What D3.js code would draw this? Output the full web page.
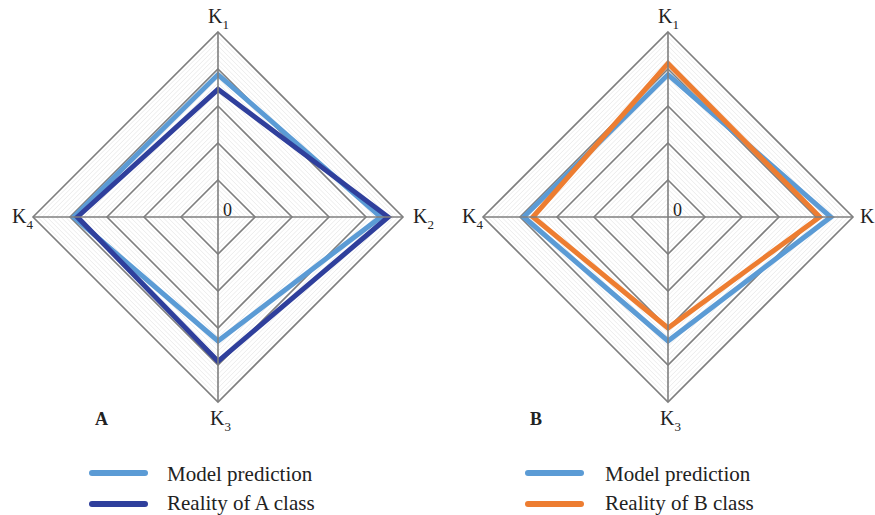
<!DOCTYPE html>
<html>
<head>
<meta charset="utf-8">
<script src="https://cdn.jsdelivr.net/npm/d3@7"></script>
<style>
  html, body { margin: 0; padding: 0; background: #fff; }
  svg { display: block; }
</style>
</head>
<body>
<svg id="chart" width="875" height="515" font-family="'Liberation Serif', 'DejaVu Serif', serif"></svg>
<script>
// Indicator axes, clockwise from the top
const axes = ["1", "2", "3", "4"];

// Scores on each axis (0 .. 1)
const modelPrediction = [0.77, 0.88, 0.67, 0.78];
const realityA = [0.69, 0.92, 0.78, 0.76];
const realityB = [0.83, 0.82, 0.60, 0.73];

const majorTicks = [0.2, 0.4, 0.6, 0.8, 1.0];
const minorStep = 0.025;

const panels = [
  { tag: "A", cx: 218, cy: 217, series: [
      { name: "Model prediction", values: modelPrediction, color: "#5b9bd5" },
      { name: "Reality of A class", values: realityA, color: "#2f3f9c" }
    ], legendX: 92, tagX: 95, textX: 75, k2x: 195, showSub: [true, true, true, true] },
  { tag: "B", cx: 668, cy: 217, series: [
      { name: "Model prediction", values: modelPrediction, color: "#5b9bd5" },
      { name: "Reality of B class", values: realityB, color: "#ed7d31" }
    ], legendX: 528, tagX: 530, textX: 77, k2x: 192, showSub: [true, false, true, true] }
];

const svg = d3.select("#chart");
const R = 185;
const r = d3.scaleLinear().domain([0, 1]).range([0, R]);
const angle = i => i * Math.PI / 2;

const ring = d3.lineRadial()
  .angle((d, i) => angle(i))
  .radius(d => r(d))
  .curve(d3.curveLinearClosed);

const minorTicks = d3.range(minorStep, 1.0001, minorStep)
  .filter(v => !majorTicks.some(m => Math.abs(m - v) < 1e-6));

panels.forEach(p => {
  const g = svg.append("g").attr("transform", `translate(${p.cx},${p.cy})`);

  // faint minor rings
  g.selectAll("path.minor").data(minorTicks).join("path")
    .attr("class", "minor")
    .attr("d", t => ring(axes.map(() => t)))
    .attr("fill", "none")
    .attr("stroke", "#ececec")
    .attr("stroke-width", 1);

  // major rings
  g.selectAll("path.major").data(majorTicks).join("path")
    .attr("class", "major")
    .attr("d", t => ring(axes.map(() => t)))
    .attr("fill", "none")
    .attr("stroke", "#7f7f7f")
    .attr("stroke-width", 1.6)
    .attr("stroke-linejoin", "miter");

  // series polygons
  p.series.forEach(s => {
    g.append("path")
      .attr("d", ring(s.values))
      .attr("fill", "none")
      .attr("stroke", s.color)
      .attr("stroke-width", 5)
      .attr("stroke-linejoin", "miter")
      .attr("stroke-miterlimit", 10);
  });

  // axis spokes
  g.selectAll("line.axis").data(axes).join("line")
    .attr("class", "axis")
    .attr("x1", 0).attr("y1", 0)
    .attr("x2", (d, i) => r(1) * Math.sin(angle(i)))
    .attr("y2", (d, i) => -r(1) * Math.cos(angle(i)))
    .attr("stroke", "#7f7f7f")
    .attr("stroke-width", 1.6);

  // zero label
  g.append("text").attr("x", 5).attr("y", -1)
    .attr("font-size", 18).attr("fill", "#222").text("0");

  // axis labels K with subscripts
  const labelPos = [
    { x: -10, y: -194 },
    { x: p.k2x, y: 6 },
    { x: -8, y: 208 },
    { x: -206, y: 6 }
  ];
  axes.forEach((a, i) => {
    const t = g.append("text")
      .attr("x", labelPos[i].x).attr("y", labelPos[i].y)
      .attr("font-size", 20).attr("fill", "#222");
    t.append("tspan").text("K");
    if (p.showSub[i]) t.append("tspan").attr("font-size", 13).attr("dy", 6).text(a);
  });

  // panel tag
  svg.append("text").attr("x", p.tagX).attr("y", 425)
    .attr("font-size", 18).attr("font-weight", "bold").attr("fill", "#222").text(p.tag);

  // legend
  const lg = svg.append("g").attr("transform", `translate(${p.legendX},0)`);
  p.series.forEach((s, k) => {
    const y = 473 + k * 31;
    lg.append("line").attr("x1", 0).attr("x2", 53).attr("y1", y).attr("y2", y)
      .attr("stroke", s.color).attr("stroke-width", 6).attr("stroke-linecap", "round");
    lg.append("text").attr("x", p.textX).attr("y", y + (k === 0 ? 8 : 6))
      .attr("font-size", 21).attr("fill", "#222").text(s.name);
  });
});
</script>
</body>
</html>
